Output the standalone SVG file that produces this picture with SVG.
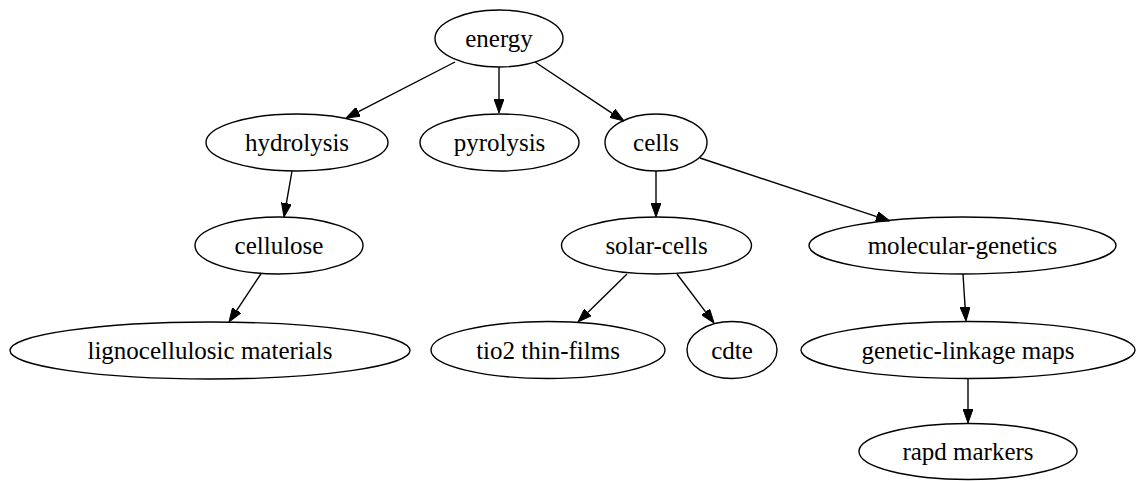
<svg xmlns="http://www.w3.org/2000/svg" width="1138" height="481" viewBox="0 0 1138 481">
  <style>
    .node ellipse { fill: none; stroke: #000; stroke-width: 1.4; }
    .edge { fill: none; stroke: #000; stroke-width: 1.4; marker-end: url(#arrow); }
  </style>
  <defs>
    <marker id="arrow" viewBox="0 0 14 10" markerWidth="14" markerHeight="10" refX="0" refY="5" markerUnits="userSpaceOnUse" orient="auto">
      <path d="M0,0 L14,5 L0,10 z" fill="#000" stroke="#000" stroke-width="1"/>
    </marker>
  </defs>
  <rect width="1138" height="481" fill="#fff"/>

  <!-- connectors: each path stops at the arrowhead base -->
  <g id="edges">
    <path class="edge" d="M455,62 L358.5,111.6"/>
    <path class="edge" d="M499,67 L499,99"/>
    <path class="edge" d="M535,62 L612.3,113.3"/>
    <path class="edge" d="M292,171 L286.4,203.2"/>
    <path class="edge" d="M261.5,273 L236.7,310.3"/>
    <path class="edge" d="M656,171 L656,203"/>
    <path class="edge" d="M700,158 L876.7,216.6"/>
    <path class="edge" d="M627,274 L588,312.2"/>
    <path class="edge" d="M677,274 L705.6,311.8"/>
    <path class="edge" d="M963,274 L965.1,307"/>
    <path class="edge" d="M968,379 L968,409"/>
  </g>

  <!-- nodes; labels share one serif face -->
  <g id="nodes" font-family="Liberation Serif, Tinos, Times New Roman, DejaVu Serif, serif" font-size="25" fill="#000" text-anchor="middle">
    <g id="energy" class="node">
      <ellipse cx="499" cy="38.5" rx="64" ry="28.5"/>
      <text x="499" y="47">energy</text>
    </g>
    <g id="hydrolysis" class="node">
      <ellipse cx="297" cy="142.5" rx="91" ry="28.5"/>
      <text x="297" y="151">hydrolysis</text>
    </g>
    <g id="pyrolysis" class="node">
      <ellipse cx="499.5" cy="142.5" rx="79.5" ry="28.5"/>
      <text x="499.5" y="151">pyrolysis</text>
    </g>
    <g id="cells" class="node">
      <ellipse cx="656" cy="142.5" rx="51" ry="28.5"/>
      <text x="656" y="151">cells</text>
    </g>
    <g id="cellulose" class="node">
      <ellipse cx="279" cy="245.5" rx="84" ry="28.5"/>
      <text x="279" y="254">cellulose</text>
    </g>
    <g id="solar-cells" class="node">
      <ellipse cx="656.5" cy="245.5" rx="95" ry="28.5"/>
      <text x="656.5" y="254">solar-cells</text>
    </g>
    <g id="molecular-genetics" class="node">
      <ellipse cx="962.5" cy="245.5" rx="153.5" ry="28.5"/>
      <text x="962.5" y="254">molecular-genetics</text>
    </g>
    <g id="lignocellulosic-materials" class="node">
      <ellipse cx="210" cy="350.5" rx="200" ry="28.5"/>
      <text x="210" y="359">lignocellulosic materials</text>
    </g>
    <g id="tio2-thin-films" class="node">
      <ellipse cx="548" cy="350" rx="117" ry="28.5"/>
      <text x="548" y="358.5">tio2 thin-films</text>
    </g>
    <g id="cdte" class="node">
      <ellipse cx="732" cy="350" rx="45" ry="28.5"/>
      <text x="732" y="358.5">cdte</text>
    </g>
    <g id="genetic-linkage-maps" class="node">
      <ellipse cx="968" cy="350" rx="167" ry="28.5"/>
      <text x="968" y="358.5">genetic-linkage maps</text>
    </g>
    <g id="rapd-markers" class="node">
      <ellipse cx="968" cy="451.5" rx="109" ry="28"/>
      <text x="968" y="460">rapd markers</text>
    </g>
  </g>
</svg>
